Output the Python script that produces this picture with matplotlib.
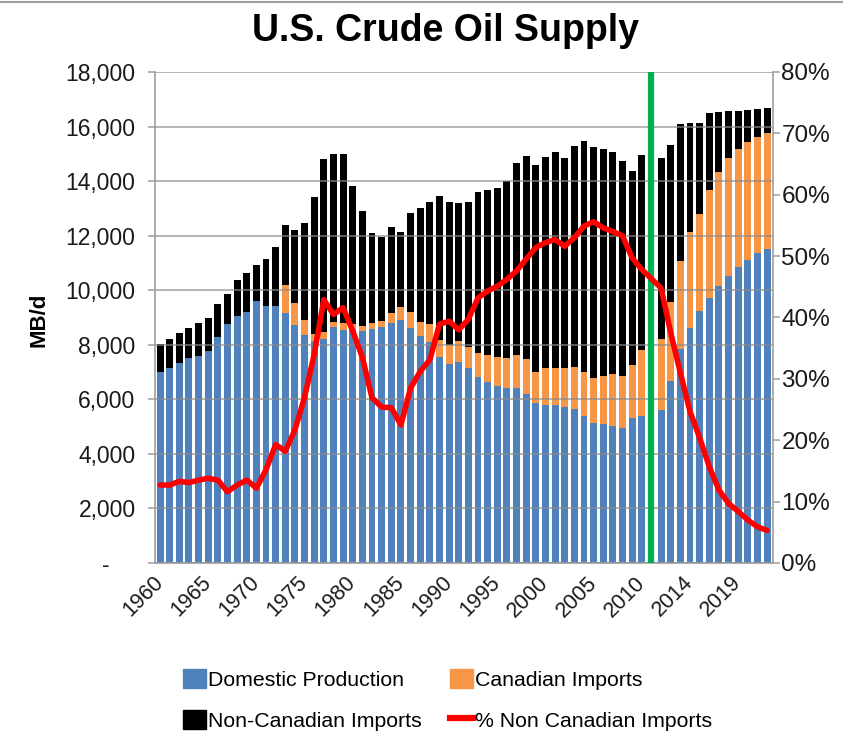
import numpy as np
import matplotlib.pyplot as plt
from matplotlib.lines import Line2D
from matplotlib.patches import Patch
from matplotlib.ticker import FuncFormatter

plt.rcParams['font.family'] = ['Liberation Sans', 'DejaVu Sans']

# data, MB/d (thousand barrels per day)
years = list(range(1960, 2023))
break_year = 2010  # green marker sits in the empty slot after this year

domestic = [7010, 7140, 7320, 7500, 7600, 7780, 8270, 8750, 9060, 9210,
            9620, 9430, 9430, 9180, 8710, 8360, 8150, 8200, 8660, 8540,
            8540, 8520, 8570, 8660, 8810, 8910, 8600, 8320, 8090, 7560,
            7280, 7360, 7140, 6830, 6620, 6500, 6430, 6400, 6200, 5850,
            5790, 5790, 5730, 5650, 5400, 5140, 5080, 5020, 4940, 5330,
            5390,
            5610, 6680, 7850, 8600, 9240, 9730, 10160, 10520, 10840, 11110, 11350, 11500]

canadian = [0, 0, 0, 0, 0, 0, 0, 0, 0, 0,
            0, 0, 0, 1010, 830, 550, 250, 280, 180, 240,
            210, 180, 220, 210, 370, 490, 610, 530, 660, 610,
            710, 780, 790, 880, 1000, 1060, 1100, 1220, 1280, 1160,
            1350, 1350, 1410, 1550, 1590, 1650, 1780, 1910, 1930, 1930,
            2400,
            2590, 2870, 3230, 3520, 3550, 3950, 4170, 4340, 4330, 4340, 4280, 4280]

non_canadian = [1020, 1060, 1120, 1120, 1190, 1190, 1220, 1110, 1300, 1410,
                1310, 1700, 2160, 2200, 2670, 3540, 5030, 6330, 6140, 6200,
                5080, 4220, 3300, 3090, 3120, 2730, 3630, 4160, 4500, 5280,
                5250, 5070, 5320, 5900, 6070, 6200, 6480, 7030, 7440, 7580,
                7740, 7940, 7700, 8100, 8490, 8470, 8310, 8130, 7850, 7120,
                7150,
                6660, 5770, 5010, 4000, 3340, 2830, 2190, 1710, 1410, 1160, 1000, 890]

pct_non_canadian = [12.7, 12.7, 13.3, 13.1, 13.5, 13.8, 13.5, 11.6, 12.7, 13.5,
                    12.2, 15.2, 19.3, 18.2, 21.7, 27.0, 34.0, 42.9, 40.5, 41.6,
                    37.8, 33.5, 26.9, 25.4, 25.3, 22.5, 28.5, 31.2, 33.1, 38.9,
                    39.4, 38.0, 39.7, 43.2, 44.3, 45.1, 46.2, 47.6, 49.5, 51.4,
                    52.2, 52.7, 51.6, 53.0, 54.9, 55.6, 54.6, 54.0, 53.3, 49.7,
                    47.8,
                    44.8, 37.5, 31.0, 24.7, 20.4, 15.7, 11.9, 9.7, 8.4, 7.0, 5.9, 5.3]

tick_years = [1960, 1965, 1970, 1975, 1980, 1985, 1990, 1995, 2000, 2005, 2010, 2014, 2019]

BLUE = '#4F81BD'
ORANGE = '#F79646'
RED = '#FF0000'
GREEN = '#00B050'
GRAY = '#A6A6A6'

yrs = np.array(years)
x = np.arange(len(yrs)) + (yrs > break_year)
gap_x = x[yrs == break_year][0] + 1
dom = np.array(domestic)
can = np.array(canadian)

fig = plt.figure(figsize=(8.43, 7.39), dpi=100)
ax = fig.add_axes([0.1839, 0.2382, 0.7331, 0.6644])

ax.bar(x, dom, width=0.72, color=BLUE, zorder=1)
ax.bar(x, can, bottom=dom, width=0.72, color=ORANGE, zorder=1)
ax.bar(x, non_canadian, bottom=dom + can, width=0.72, color='#000000', zorder=1)
ax.axvline(gap_x, color=GREEN, lw=4.5, zorder=5)

ax.set_xlim(-0.52, x[-1] + 0.62)
ax.set_ylim(0, 18000)
ax.set_yticks(np.arange(0, 18001, 2000))
ax.yaxis.set_major_formatter(FuncFormatter(lambda v, p: '-    ' if v == 0 else f'{v:,.0f}'))
ax.set_axisbelow(False)
ax.yaxis.grid(True, color='#8c8c8c', lw=1.3, alpha=0.7)

tick_pos = [x[yrs == y][0] for y in tick_years]
ax.set_xticks(tick_pos)
ax.set_xticklabels([str(y) for y in tick_years], rotation=45, ha='right', va='center',
                   rotation_mode='anchor')
ax.tick_params(axis='x', length=0, pad=12, labelsize=15.5, labelcolor='#1a1a1a')
ax.tick_params(axis='y', direction='out', length=5, color=GRAY, width=1.2, pad=9,
               labelsize=16.5, labelcolor='#1a1a1a')

for s in ['top', 'right']:
    ax.spines[s].set_visible(False)
for s in ['left', 'bottom']:
    ax.spines[s].set_color(GRAY)
    ax.spines[s].set_linewidth(1.3)

ax.set_ylabel('MB/d', fontsize=16, fontweight='bold')
ax.yaxis.set_label_coords(-0.17, 0.495)

ax2 = ax.twinx()
ax2.plot(x, pct_non_canadian, color=RED, lw=4, solid_joinstyle='round', solid_capstyle='round')
ax2.set_ylim(0, 80)
ax2.set_yticks(np.arange(0, 81, 10))
ax2.yaxis.set_major_formatter(FuncFormatter(lambda v, p: f'{v:.0f}%'))
ax2.tick_params(axis='y', direction='out', length=5, color=GRAY, width=1.2, pad=1,
                labelsize=17.5, labelcolor='#1a1a1a')
for s in ['top', 'left', 'bottom']:
    ax2.spines[s].set_visible(False)
ax2.spines['right'].set_color(GRAY)
ax2.spines['right'].set_linewidth(1.3)

fig.text(0.529, 0.958, 'U.S. Crude Oil Supply', ha='center', va='center',
         fontsize=27, fontweight='bold')
fig.add_artist(Line2D([0, 1], [0.997, 0.997], color='#a0a0a0', lw=1.5))

handles = [Patch(color=BLUE), Patch(color='#000000'), Patch(color=ORANGE),
           Line2D([], [], color=RED, lw=4.5)]
labels = ['Domestic Production', 'Non-Canadian Imports', 'Canadian Imports',
          '% Non Canadian Imports']
fig.legend(handles, labels, ncol=2, loc='center', bbox_to_anchor=(0.531, 0.053),
           frameon=False, fontsize=15.3, handlelength=1.1, handleheight=1.0,
           handletextpad=0.1, columnspacing=1.3, labelspacing=0.95, borderaxespad=0)

fig.savefig('out.png', dpi=100)
